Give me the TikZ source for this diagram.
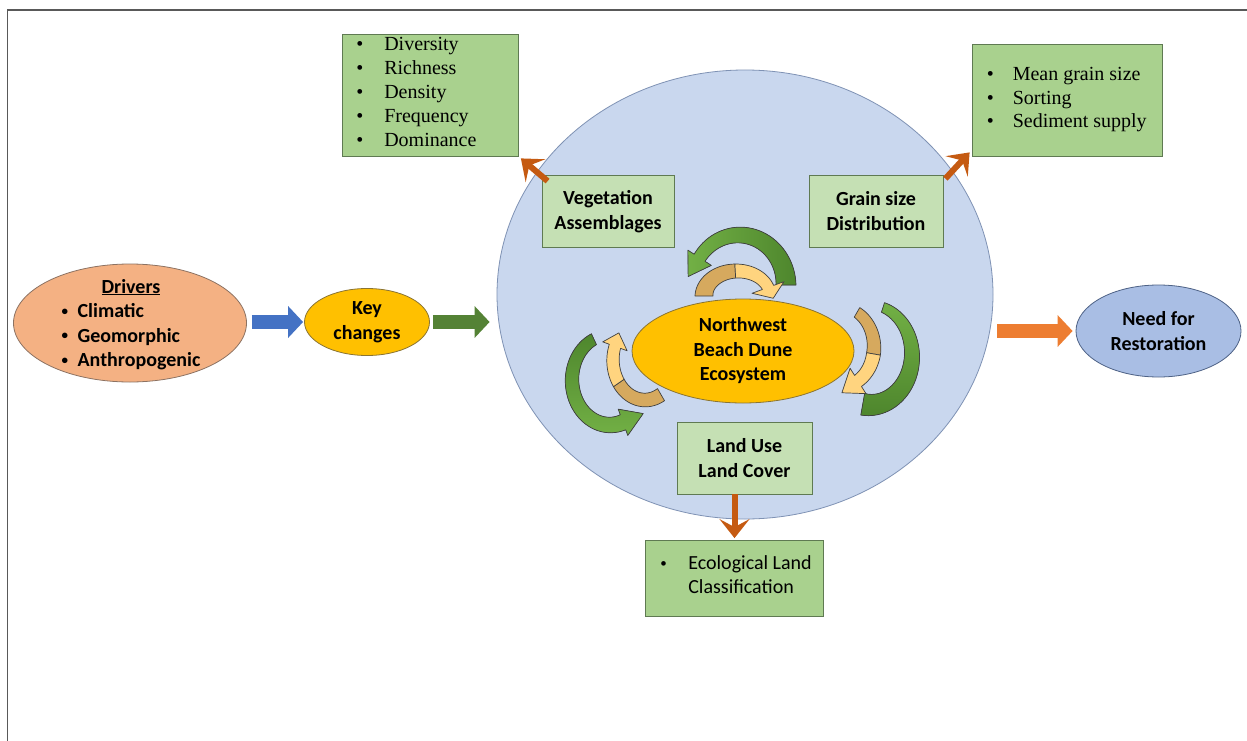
\documentclass[tikz,border=0pt]{standalone}
\usepackage{fontspec}
\setmainfont{Carlito}
\newfontfamily\serifont{Liberation Serif}
\usetikzlibrary{shapes.geometric,arrows.meta}
\definecolor{circfill}{HTML}{C9D7EE}
\definecolor{circline}{HTML}{7F92B4}
\definecolor{boxA}{HTML}{A9D18E}
\definecolor{boxB}{HTML}{C5E0B4}
\definecolor{boxline}{HTML}{5F7A52}
\definecolor{drvfill}{HTML}{F4B183}
\definecolor{drvline}{HTML}{8C7262}
\definecolor{gold}{HTML}{FFC000}
\definecolor{goldline}{HTML}{8A7433}
\definecolor{needfill}{HTML}{A9BEE4}
\definecolor{needline}{HTML}{4E6286}
\definecolor{arrblue}{HTML}{4472C4}
\definecolor{arrgreen}{HTML}{548235}
\definecolor{arrorange}{HTML}{ED7D31}
\definecolor{arrbrown}{HTML}{C55A11}
\definecolor{glight}{HTML}{72B045}
\definecolor{gdark}{HTML}{4E862D}
\definecolor{tanc}{HTML}{D6A95E}
\definecolor{lyellow}{HTML}{FFD47F}
\newcommand\sbul{\raisebox{2.5pt}{\fontsize{13}{13}\selectfont •}}
% curved band arrow: [options]{rx}{ry}{a1}{a2}{w1}{w2}{head length}{head width}
\newcommand\carrow[9][]{%
  \pgfmathsetmacro\cA{cos(#5)}%
  \pgfmathsetmacro\sA{sin(#5)}%
  \pgfmathsetmacro\sg{sign(#5-#4)}%
  \pgfmathsetmacro\tX{-(#2)*\sA*\sg}%
  \pgfmathsetmacro\tY{(#3)*\cA*\sg}%
  \pgfmathsetmacro\tN{sqrt(\tX*\tX+\tY*\tY)}%
  \pgfmathsetmacro\pX{(#2)*\cA+(#8)*\tX/\tN}%
  \pgfmathsetmacro\pY{(#3)*\sA+(#8)*\tY/\tN}%
  \filldraw[curv,#1] plot[domain=#4:#5,samples=40,variable=\t]
     ({((#2)+((#6)+((#7)-(#6))*(\t-(#4))/((#5)-(#4)))/2)*cos(\t)},{((#3)+((#6)+((#7)-(#6))*(\t-(#4))/((#5)-(#4)))/2)*sin(\t)})
    -- ({((#2)+(#9)/2)*\cA},{((#3)+(#9)/2)*\sA})
    -- (\pX,\pY)
    -- ({((#2)-(#9)/2)*\cA},{((#3)-(#9)/2)*\sA})
    -- plot[domain=#5:#4,samples=40,variable=\t]
     ({((#2)-((#6)+((#7)-(#6))*(\t-(#4))/((#5)-(#4)))/2)*cos(\t)},{((#3)-((#6)+((#7)-(#6))*(\t-(#4))/((#5)-(#4)))/2)*sin(\t)})
    -- cycle;}
\begin{document}
\begin{tikzpicture}[x=1pt,y=-1pt,
  lbl/.style={font=\bfseries\fontsize{20}{24.5}\selectfont, align=center, text=black},
  inbox/.style={draw=boxline, fill=boxB, line width=0.8pt, minimum width=132pt, minimum height=72pt, inner sep=0pt, lbl},
  outbox/.style={draw=boxline, fill=boxA, line width=0.8pt, inner sep=0pt},
  oval/.style={ellipse, line width=0.8pt, inner sep=0pt, lbl},
  blockarr/.style={line width=14pt, -{Triangle[length=15pt,width=31pt]}},
  chevron/.style={line width=6pt, draw=arrbrown, -{Stealth[length=19pt,width=30pt,inset=8pt]}},
  curv/.style={draw=black!75, line width=0.7pt, line join=round},
  serlist/.style={font=\serifont\fontsize{20}{24}\selectfont, inner sep=0pt, anchor=west}
]
\useasboundingbox (0,0) rectangle (1247,741);
\fill[white] (0,0) rectangle (1247,741);
\draw[line width=1.5pt, black!65] (1247,10) -- (7.5,10) -- (7.5,741);

% big system circle
\node[ellipse, draw=circline, fill=circfill, line width=0.8pt, minimum width=496pt, minimum height=449pt, inner sep=0pt] (sys) at (745,294.5) {};

% inner boxes
\node[inbox] (veg) at (608,211.5) {Vegetation\\Assemblages};
\node[inbox, minimum width=134pt] (grain) at (876,211) {Grain size\\Distribution};
\node[inbox, minimum width=135pt] (land) at (744.5,458) {Land Use\\Land Cover};

% central ellipse
\node[oval, draw=goldline, fill=gold, minimum width=222pt, minimum height=104pt] (nw) at (743,351) {Northwest\\Beach Dune\\Ecosystem};

% cycle arrows
\carrow[shift={(739,285)},yscale=-1,left color=glight,right color=gdark]{47}{50}{0}{147}{20}{13}{22}{28}
\carrow[shift={(737,296)},yscale=-1,fill=tanc]{33}{25}{180}{93}{18}{14}{0}{14}
\carrow[shift={(737,296)},yscale=-1,fill=lyellow]{33}{25}{93}{20}{14}{12}{12}{34}
\carrow[shift={(870,355)},yscale=-1,top color=glight,bottom color=gdark]{42}{50}{72}{-100}{10}{22}{0}{22}
\carrow[shift={(840,347)},yscale=-1,fill=tanc]{34}{40}{60}{-10}{11}{14}{0}{14}
\carrow[shift={(840,347)},yscale=-1,fill=lyellow]{34}{40}{-10}{-58}{14}{13}{20}{30}
\carrow[shift={(610,380)},yscale=-1,top color=gdark,bottom color=glight]{38}{45}{115}{290}{12}{16}{22}{28}
\carrow[shift={(645,360)},yscale=-1,fill=tanc]{32}{40}{300}{215}{14}{13}{0}{13}
\carrow[shift={(645,360)},yscale=-1,fill=lyellow]{32}{40}{215}{160}{13}{12}{14}{26}

% outer boxes
\node[outbox, minimum width=176pt, minimum height=122pt] (div) at (430.5,95) {};
\node[serlist] (divtxt) at ([shift={(14pt,1pt)}]div.west) {\begin{tabular}{@{}p{28pt}@{}l@{}}•&Diversity\\•&Richness\\•&Density\\•&Frequency\\•&Dominance\end{tabular}};
\node[outbox, minimum width=190pt, minimum height=112pt] (mean) at (1067,100) {};
\node[serlist, font=\serifont\fontsize{20}{23.5}\selectfont] (meantxt) at ([shift={(15pt,0.5pt)}]mean.west) {\begin{tabular}{@{}p{26pt}@{}l@{}}•&Mean grain size\\•&Sorting\\•&Sediment supply\end{tabular}};
\node[outbox, minimum width=178pt, minimum height=76pt] (eco) at (734.5,578.5) {};
\node[serlist, font=\fontsize{20}{24}\selectfont] (ecotxt) at ([shift={(15pt,1.5pt)}]eco.west) {\begin{tabular}{@{}p{28pt}@{}l@{}}\sbul&Ecological Land\\&Classification\end{tabular}};

% side ellipses
\node[oval, draw=drvline, fill=drvfill, minimum width=233pt, minimum height=118pt] (drv) at (130,323) {};
\node[lbl, inner sep=0pt] (drvtxt) at (131,325) {\begin{tabular}{@{}p{16pt}@{}l@{}}\multicolumn{2}{c}{\underline{Drivers}}\\\sbul&Climatic\\\sbul&Geomorphic\\\sbul&Anthropogenic\end{tabular}};
\node[oval, draw=goldline, fill=gold, minimum width=125pt, minimum height=67pt] (key) at (367,322) {Key\\changes};
\node[oval, draw=needline, fill=needfill, minimum width=165pt, minimum height=92pt] (need) at (1158.5,331) {Need for\\Restoration};

% block arrows
\draw[blockarr, draw=arrblue] ([xshift=5pt]key.west -| drv.east) -- ([xshift=-1pt]key.west);
\draw[blockarr, draw=arrgreen] ([xshift=3pt]key.east) -- ([xshift=-7pt]key.east -| sys.west);
\draw[blockarr, draw=arrorange] ([xshift=4pt]need.west -| sys.east) -- ([xshift=-3pt]need.west);

% chevron arrows
\draw[chevron] ([shift={(6pt,-6pt)}]veg.north west) -- ([shift={(2pt,-2pt)}]div.south east);
\draw[chevron] ([shift={(2pt,-4pt)}]grain.north east) -- ([shift={(-2pt,4pt)}]mean.south west);
\draw[chevron] (land.south -| eco.north) -- ([yshift=2pt]eco.north);
\end{tikzpicture}
\end{document}
